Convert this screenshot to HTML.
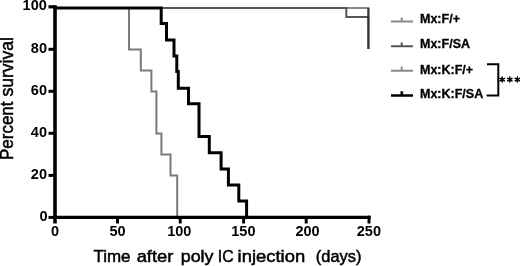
<!DOCTYPE html>
<html>
<head>
<meta charset="utf-8">
<style>
html,body{margin:0;padding:0;background:#fff;}
body{width:520px;height:266px;overflow:hidden;}
svg{display:block;filter:grayscale(100%);}
text{font-family:"Liberation Sans",sans-serif;}
</style>
</head>
<body>
<svg width="520" height="266" viewBox="0 0 520 266">
<rect x="0" y="0" width="520" height="266" fill="#fff"/>

<!-- curves -->
<g fill="none" stroke-linejoin="miter" stroke-linecap="butt">
  <!-- Mx:F/+ light gray -->
  <path d="M55,8 H368.4 V17" stroke="#8a8a8a" stroke-width="2"/>
  <!-- Mx:F/SA dark gray -->
  <path d="M55,8 H346.3 V16.9 H368.4 V49" stroke="#555" stroke-width="2"/>
  <path d="M368.4,8 V49" stroke="#333" stroke-width="2"/>
  <!-- Mx:K:F/+ gray -->
  <path d="M55,8 H129 V49.5 H140.8 V70.5 H151.4 V91.4 H156.4 V133.5 H161.4 V154.4 H170.5 V175.4 H177.2 V217.4" stroke="#7a7a7a" stroke-width="2"/>
  <!-- Mx:K:F/SA black -->
  <path d="M55,8 H161.2 V23.5 H166.5 V39.9 H174 V56 H176.8 V71.5 H178.3 V88.2 H188.5 V103.8 H199 V136.5 H209.3 V152.7 H221.1 V169 H228.4 V185 H238.8 V201 H246.6 V217.4" stroke="#000" stroke-width="3"/>
</g>

<!-- axes -->
<g stroke="#000" fill="none">
  <line x1="55" y1="5.2" x2="55" y2="223.5" stroke-width="3.6"/>
  <line x1="53.2" y1="217.4" x2="370.6" y2="217.4" stroke-width="3.4"/>
  <!-- y ticks -->
  <line x1="48.5" y1="6.8" x2="55" y2="6.8" stroke-width="3.2"/>
  <line x1="48.5" y1="49.3" x2="55" y2="49.3" stroke-width="3"/>
  <line x1="48.5" y1="91.3" x2="55" y2="91.3" stroke-width="3"/>
  <line x1="48.5" y1="133.3" x2="55" y2="133.3" stroke-width="3"/>
  <line x1="48.5" y1="175.4" x2="55" y2="175.4" stroke-width="3"/>
  <line x1="48.5" y1="217.4" x2="55" y2="217.4" stroke-width="3"/>
  <!-- x ticks -->
  <line x1="117.5" y1="217.4" x2="117.5" y2="223.5" stroke-width="3"/>
  <line x1="180.2" y1="217.4" x2="180.2" y2="223.5" stroke-width="3"/>
  <line x1="243.6" y1="217.4" x2="243.6" y2="223.5" stroke-width="3"/>
  <line x1="306.2" y1="217.4" x2="306.2" y2="223.5" stroke-width="3"/>
  <line x1="369" y1="215.7" x2="369" y2="223.5" stroke-width="3"/>
</g>

<!-- y tick labels -->
<g font-size="14.5" font-weight="bold" text-anchor="end" fill="#000">
  <text x="46.8" y="10.1">100</text>
  <text x="47" y="52.5">80</text>
  <text x="47" y="94.6">60</text>
  <text x="47" y="136.6">40</text>
  <text x="47" y="178.6">20</text>
  <text x="47.5" y="221.2">0</text>
</g>
<!-- x tick labels -->
<g font-size="14.5" font-weight="bold" text-anchor="middle" fill="#000">
  <text x="55" y="236.2">0</text>
  <text x="117.5" y="236.2">50</text>
  <text x="179.3" y="236.2">100</text>
  <text x="243.4" y="236.2">150</text>
  <text x="307.6" y="236.2">200</text>
  <text x="368.9" y="236.2">250</text>
</g>

<!-- axis titles -->
<g font-size="17" fill="#000" stroke="#000" stroke-width="0.5">
  <text x="93.4" y="262.3" textLength="37.1" lengthAdjust="spacingAndGlyphs">Time</text>
  <text x="136.7" y="262.3" textLength="36.6" lengthAdjust="spacingAndGlyphs">after</text>
  <text x="180.7" y="262.3" textLength="32.8" lengthAdjust="spacingAndGlyphs">poly</text>
  <text x="217.8" y="262.3" textLength="15.8" lengthAdjust="spacingAndGlyphs">IC</text>
  <text x="237.6" y="262.3" textLength="67.6" lengthAdjust="spacingAndGlyphs">injection</text>
  <text x="315.8" y="262.3" textLength="45.6" lengthAdjust="spacingAndGlyphs">(days)</text>
</g>
<g font-size="18" fill="#000" stroke="#000" stroke-width="0.5">
  <text transform="translate(13.3,160) rotate(-90)" x="0" y="0" textLength="58.5" lengthAdjust="spacingAndGlyphs">Percent</text>
  <text transform="translate(13.3,96.6) rotate(-90)" x="0" y="0" textLength="59.6" lengthAdjust="spacingAndGlyphs">survival</text>
</g>

<!-- legend -->
<g fill="none" stroke-linecap="butt">
  <path d="M391,21.5 H413 M401.7,21.5 V17.6" stroke="#8a8a8a" stroke-width="2"/>
  <path d="M391,46.2 H413 M401.7,46.2 V42.4" stroke="#555" stroke-width="2"/>
  <path d="M391,70.7 H413 M401.7,70.7 V66.6" stroke="#8a8a8a" stroke-width="2"/>
  <path d="M391,95.5 H413 M401.8,95.5 V91.2" stroke="#000" stroke-width="2.6"/>
</g>
<g font-size="12.5" font-weight="bold" fill="#000" stroke="#000" stroke-width="0.3">
  <text x="420" y="23.1">Mx:F/+</text>
  <text x="420" y="48.4">Mx:F/SA</text>
  <text x="420" y="73.6">Mx:K:F/+</text>
  <text x="420" y="98.4">Mx:K:F/SA</text>
</g>
<!-- bracket -->
<path d="M487,64.3 H498.3 V95.6 H486.6" fill="none" stroke="#000" stroke-width="2"/>
<g stroke="#000" stroke-width="1.5" fill="none" stroke-linecap="round">
  <path d="M502.2,77.1 V82.1 M500,78.35 L504.4,80.85 M500,80.85 L504.4,78.35"/>
  <path d="M509.8,77.1 V82.1 M507.6,78.35 L512,80.85 M507.6,80.85 L512,78.35"/>
  <path d="M517.4,77.1 V82.1 M515.2,78.35 L519.6,80.85 M515.2,80.85 L519.6,78.35"/>
</g>
</svg>
</body>
</html>
